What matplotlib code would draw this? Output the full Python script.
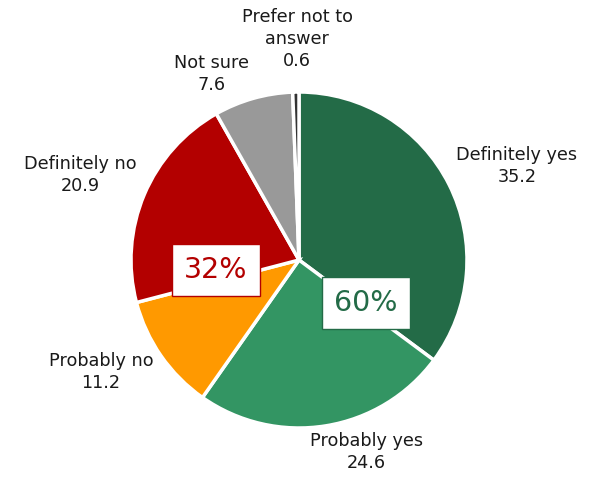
import matplotlib.pyplot as plt

# Data
categories = ['Definitely yes', 'Probably yes', 'Probably no', 'Definitely no', 'Not sure', 'Prefer not to\nanswer']
values = [35.2, 24.6, 11.2, 20.9, 7.6, 0.6]
colors = ['#236b47', '#339563', '#ff9900', '#b30000', '#999999', '#333333']
group_labels = ['60%', '32%']
group_colors = ['#236b47', '#b30000']

W, H = 592, 479
fig = plt.figure(figsize=(W / 100, H / 100), dpi=100)
ax = fig.add_axes([0, 0, 1, 1])

cx, cy, r = 299, H - 260, 168
ax.pie(values, colors=colors, startangle=90, counterclock=False,
       center=(cx, cy), radius=r,
       wedgeprops=dict(edgecolor='white', linewidth=2.5))
# pie resets the limits, so set them afterwards
ax.set_xlim(0, W)
ax.set_ylim(0, H)
ax.set_aspect('equal')
ax.axis('off')

# label positions (pixels from top-left)
label_pos = [(517, 166), (366, 452), (101, 372), (80, 175), (212, 74), (297, 39)]
for name, v, (x, y) in zip(categories, values, label_pos):
    ax.text(x, H - y, '%s\n%.1f' % (name, v), ha='center', va='center',
            fontsize=12.7, color='#1a1a1a', linespacing=1.32)

# boxed group totals
box_pos = [(366, 303), (216, 270)]
for t, c, (x, y) in zip(group_labels, group_colors, box_pos):
    ax.text(x, H - y, t, ha='center', va='center', fontsize=20.5, color=c,
            bbox=dict(boxstyle='square,pad=0.42', facecolor='white', edgecolor=c, linewidth=1))

fig.savefig('out.png', dpi=100)
